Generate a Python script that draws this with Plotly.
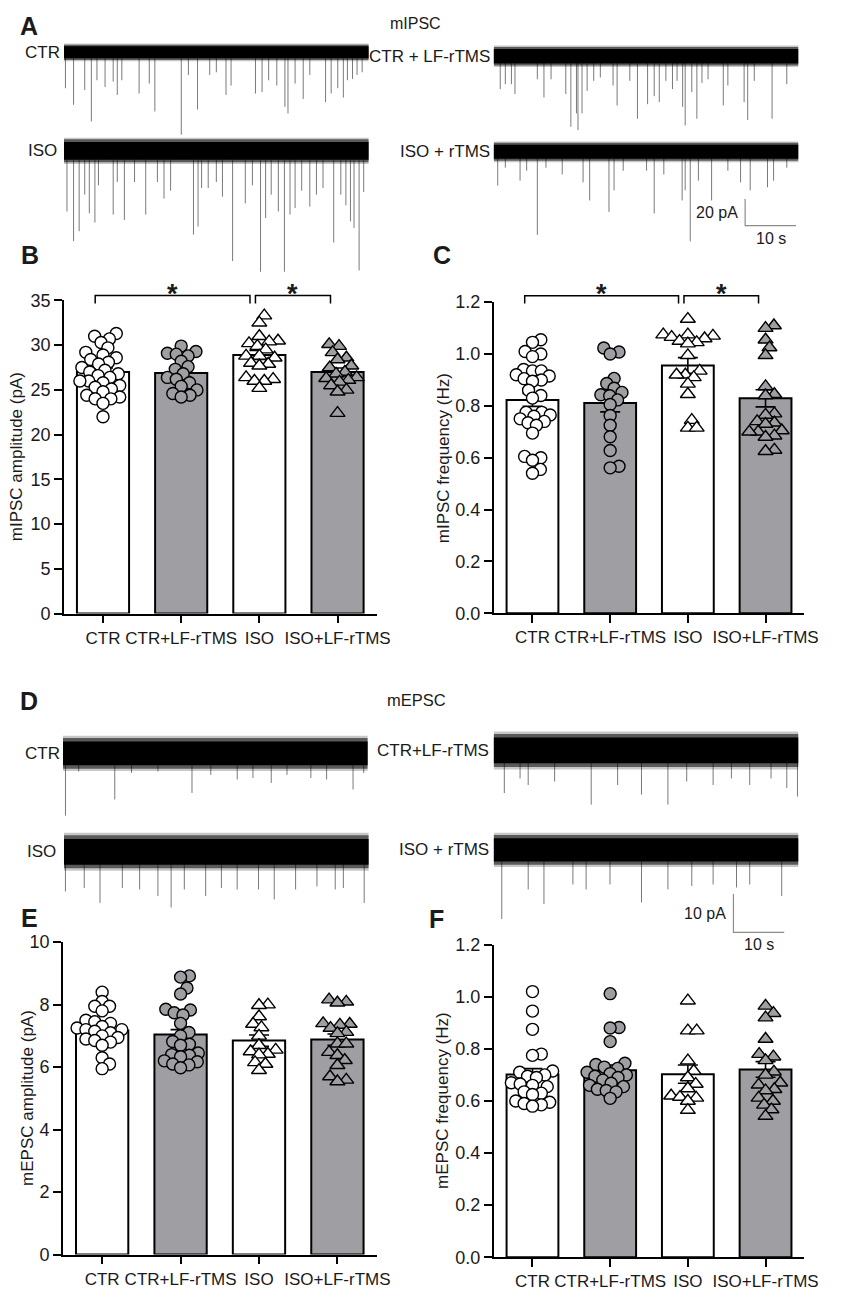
import plotly.graph_objects as go

W, H = 841, 1300
FONT = "Liberation Sans, Arial, sans-serif"
GRAY = "#9e9ea3"
INK = "#1a1a1a"

groups = ["CTR", "CTR+LF-rTMS", "ISO", "ISO+LF-rTMS"]

# ---------------- B: mIPSC amplitude (pA)
ipsc_amp_ctr = [31.3, 31.0, 30.7, 30.3, 29.7, 29.2, 28.9, 28.6, 28.4, 28.1,
                27.9, 27.5, 27.2, 27.0, 26.8, 26.6, 26.4, 26.0, 26.0, 25.8,
                25.5, 25.3, 25.1, 24.8, 24.4, 24.2, 24.0, 24.0, 23.5, 22.0]
ipsc_amp_ctr_lf = [29.9, 29.3, 29.1, 29.0, 28.8, 28.2, 27.6, 27.3, 26.8, 26.4,
                   26.2, 25.8, 25.4, 25.0, 24.6, 24.4, 24.2]
ipsc_amp_iso = [33.3, 32.5, 31.0, 30.5, 30.4, 30.2, 29.9, 29.5, 28.8, 28.8,
                28.6, 28.0, 27.9, 27.7, 26.4, 26.2, 26.0, 26.0, 25.2]
ipsc_amp_iso_lf = [30.1, 29.9, 29.2, 28.6, 28.4, 27.7, 27.5, 27.0, 26.8, 26.4,
                   26.3, 26.1, 25.9, 25.5, 25.0, 24.8, 22.4]
ipsc_amp_mean = [27.0, 26.9, 28.9, 27.0]
ipsc_amp_sem = [0.45, 0.4, 0.5, 0.45]
ipsc_amp_ticks = [0, 5, 10, 15, 20, 25, 30, 35]
ipsc_amp_ticktext = ["0", "5", "10", "15", "20", "25", "30", "35"]

# ---------------- C: mIPSC frequency (Hz)
ipsc_freq_ctr = [1.055, 1.045, 1.01, 1.0, 0.99, 0.94, 0.935, 0.935, 0.92, 0.915,
                 0.905, 0.9, 0.895, 0.86, 0.84, 0.83, 0.775, 0.775, 0.765, 0.76,
                 0.75, 0.74, 0.735, 0.725, 0.695, 0.605, 0.6, 0.59, 0.555, 0.54]
ipsc_freq_ctr_lf = [1.023, 1.008, 1.0, 0.906, 0.886, 0.868, 0.852, 0.843, 0.839,
                    0.823, 0.805, 0.763, 0.725, 0.681, 0.628, 0.567, 0.561]
ipsc_freq_iso = [1.135, 1.075, 1.075, 1.07, 1.065, 1.06, 1.05, 1.045, 1.04, 0.995,
                 0.935, 0.92, 0.92, 0.91, 0.885, 0.845, 0.745, 0.715, 0.715]
ipsc_freq_iso_lf = [1.11, 1.1, 1.055, 1.025, 0.995, 0.875, 0.845, 0.84, 0.77, 0.765,
                    0.74, 0.735, 0.73, 0.705, 0.7, 0.7, 0.685, 0.68, 0.63, 0.625]
ipsc_freq_mean = [0.823, 0.811, 0.956, 0.829]
ipsc_freq_sem = [0.025, 0.034, 0.03, 0.033]

freq_ticks = [0.0, 0.2, 0.4, 0.6, 0.8, 1.0, 1.2]
freq_ticktext = ["0.0", "0.2", "0.4", "0.6", "0.8", "1.0", "1.2"]

# ---------------- E: mEPSC amplitude (pA)
epsc_amp_ctr = [8.4, 8.1, 7.95, 7.95, 7.8, 7.5, 7.45, 7.4, 7.3, 7.25, 7.2, 7.2,
                7.15, 7.1, 7.0, 6.95, 6.9, 6.85, 6.8, 6.7, 6.3, 6.1, 5.95]
epsc_amp_ctr_lf = [8.92, 8.88, 8.53, 8.34, 7.85, 7.83, 7.74, 7.67, 7.4, 7.11, 7.0,
                   6.82, 6.73, 6.7, 6.45, 6.4, 6.38, 6.33, 6.2, 6.17, 6.1, 6.07, 5.98]
epsc_amp_iso = [8.0, 7.98, 7.62, 7.38, 7.27, 7.0, 6.7, 6.55, 6.5, 6.42, 6.4, 6.15,
                6.1, 5.9]
epsc_amp_iso_lf = [8.16, 8.09, 8.06, 7.4, 7.38, 7.35, 7.25, 7.12, 7.08, 6.75, 6.75,
                   6.48, 6.38, 6.22, 6.06, 5.7, 5.59, 5.54]
epsc_amp_mean = [7.17, 7.04, 6.85, 6.88]
epsc_amp_sem = [0.12, 0.16, 0.18, 0.18]
epsc_amp_ticks = [0, 2, 4, 6, 8, 10]
epsc_amp_ticktext = ["0", "2", "4", "6", "8", "10"]

# ---------------- F: mEPSC frequency (Hz)
epsc_freq_ctr = [1.02, 0.945, 0.875, 0.78, 0.775, 0.715, 0.71, 0.7, 0.695, 0.69,
                 0.67, 0.665, 0.66, 0.655, 0.635, 0.63, 0.625, 0.6, 0.595, 0.59,
                 0.585, 0.58]
epsc_freq_ctr_lf = [1.012, 0.882, 0.88, 0.828, 0.745, 0.74, 0.73, 0.725, 0.71, 0.705,
                    0.7, 0.695, 0.69, 0.68, 0.668, 0.66, 0.655, 0.645, 0.64, 0.635,
                    0.61]
epsc_freq_iso = [0.985, 0.87, 0.87, 0.755, 0.715, 0.69, 0.665, 0.648, 0.62, 0.615,
                 0.612, 0.6, 0.565]
epsc_freq_iso_lf = [0.965, 0.937, 0.92, 0.838, 0.78, 0.77, 0.756, 0.712, 0.7, 0.67,
                    0.662, 0.645, 0.64, 0.612, 0.6, 0.585, 0.567, 0.542]
epsc_freq_mean = [0.702, 0.718, 0.703, 0.721]
epsc_freq_sem = [0.022, 0.02, 0.035, 0.03]

# ---------------- A / D: example traces (event time s, event size pA)
ipsc_ctr_t = [0.3, 1.9, 4.1, 5.4, 6.5, 8.1, 9.7, 10.5, 11.4, 14.8, 16.8, 17.9,
              23.1, 24.5, 26.3, 28.7, 30.0, 31.9, 32.9, 37.7, 39.0, 40.3, 41.9,
              43.5, 44.1, 45.5, 47.1, 48.4, 51.5, 52.6, 53.9, 55.0, 55.8, 56.8,
              57.7, 58.7]
ipsc_ctr_pa = [27, 39.5, 28.4, 52, 21, 26, 22, 32, 21, 31, 23.5, 44.5, 62, 17, 43,
               17, 15, 32, 25, 31, 30, 21, 25, 41, 46, 23.5, 35, 17, 37.5, 31, 27,
               34, 21, 20, 17, 15]
ipsc_iso_t = [0.6, 1.9, 3.0, 4.1, 5.0, 6.1, 6.8, 9.7, 10.5, 11.9, 13.9, 16.1, 18.4,
              19.7, 21.0, 25.5, 26.4, 27.1, 28.4, 30.0, 31.2, 33.2, 35.7, 37.1,
              38.7, 39.7, 40.8, 42.2, 43.4, 44.5, 45.5, 46.8, 48.4, 49.7, 51.0,
              53.1, 54.5, 55.5, 56.4, 57.1, 58.1, 59.0]
ipsc_iso_pa = [45.7, 68, 60.5, 33, 47, 54, 26, 48, 23.5, 52, 23.5, 48, 23.5, 36, 30,
               63, 57, 28, 28, 23.5, 34.5, 83, 39.5, 26, 91, 50.5, 33, 45.7, 91, 48,
               43, 30, 42, 33, 28, 69, 33, 41, 53, 58, 90, 31]
ipsc_ctr_lf_t = [1.3, 2.3, 3.5, 4.2, 8.6, 9.9, 11.3, 14.2, 15.2, 16.3, 16.6, 17.4,
                 18.4, 19.7, 21.0, 23.5, 24.3, 26.8, 28.3, 30.3, 31.6, 32.6, 33.9,
                 35.2, 36.1, 37.2, 37.7, 39.0, 40.0, 41.0, 42.2, 45.2, 46.1, 49.3,
                 50.0, 51.3, 54.8, 57.7]
ipsc_ctr_lf_pa = [24.7, 21, 21, 28.4, 17.3, 31, 17.3, 28.4, 53, 43, 55.6, 43, 26,
                  18.5, 16, 22, 37, 18.5, 47, 36, 30, 34.5, 18.5, 24.7, 18.5, 38, 52,
                  27, 47, 20, 17.3, 37, 22, 34.5, 48, 18.5, 47, 21]
ipsc_iso_r_t = [0.8, 2.3, 5.2, 6.5, 8.6, 10.3, 13.5, 17.6, 18.9, 22.7, 23.7, 25.5,
                30.1, 31.6, 33.5, 37.1, 37.7, 38.7, 40.3, 42.9, 46.1, 48.6, 50.5,
                53.9, 55.1, 57.7]
ipsc_iso_r_pa = [25.4, 12, 21.7, 14.3, 62.5, 12, 17, 23, 36.6, 45.2, 29, 14.3, 14.3,
                 46.4, 17, 36.6, 29, 67.4, 21.7, 36.6, 14.3, 23, 29, 26.7, 21.7, 12]

epsc_ctr_t = [0.5, 3.1, 10.2, 13.5, 18.7, 25.4, 29.1, 34.3, 37.4, 41.0, 44.1, 48.8,
              51.9, 57.1, 59.2]
epsc_ctr_pa = [16.2, 4.7, 12, 5.1, 4.7, 10.3, 5.6, 6.8, 6.4, 7.7, 5.6, 6.4, 6.8,
               9.4, 5.1]
epsc_ctr_lf_t = [2.1, 5.2, 6.8, 12.0, 19.2, 24.4, 29.1, 34.3, 38.0, 43.2, 46.8,
                 50.4, 54.6, 57.7, 59.8]
epsc_ctr_lf_pa = [11.1, 7.3, 9, 8.1, 14.1, 9, 11.5, 14.1, 8.1, 9, 7.3, 9, 7.3, 9.8, 12]
epsc_iso_t = [0.3, 4.0, 7.1, 11.5, 14.9, 18.5, 21.1, 23.7, 27.9, 31.0, 34.1, 38.3,
              41.4, 45.6, 49.8, 53.4, 55.0, 59.1]
epsc_iso_pa = [10.3, 9.4, 13.3, 9.4, 9.8, 11.5, 14.5, 9.8, 11.5, 9.4, 9.8, 9.8, 12.4,
               9.8, 9, 9.8, 9.4, 13.3]
epsc_iso_r_t = [1.6, 6.8, 9.9, 15.6, 18.2, 22.9, 29.1, 34.3, 39.0, 43.2, 47.8, 50.4,
                56.7]
epsc_iso_r_pa = [18, 10.3, 14.1, 9, 10.3, 9, 13.7, 10.3, 9.4, 9, 9.8, 9, 12]

TRACE_DUR = 60  # s


def ax(kind, n):
    return kind if n == 1 else f"{kind}{n}"


def px_x(p):
    return p / W


def px_y(p):
    return 1 - p / H


fig = go.Figure()
layout = {}
annotations = []


def note(text, x, y, size=17, xanchor="center", yanchor="middle", **kw):
    annotations.append(dict(text=text, x=x, y=y, xref=kw.pop("xref", "paper"),
                            yref=kw.pop("yref", "paper"), showarrow=False,
                            xanchor=xanchor, yanchor=yanchor,
                            font=dict(family=FONT, size=size, color=INK), **kw))


def swarm(values, ppu_y, cat_px, d=8.8, step=0.5):
    # simple deterministic beeswarm (pixel space) -> offsets in category units
    order = sorted(range(len(values)), key=lambda i: values[i])
    placed = []
    offs = [0.0] * len(values)
    for i in order:
        y = values[i] * ppu_y
        k = 0
        while True:
            found = None
            for c in ([0.0] if k == 0 else [k * step, -k * step]):
                if all((c - px) ** 2 + (y - py) ** 2 >= d * d for px, py in placed):
                    found = c
                    break
            if found is not None:
                break
            k += 1
        placed.append((found, y))
        offs[i] = found / cat_px
    return offs


styles = [
    dict(symbol="circle", color="white", size=12),
    dict(symbol="circle", color=GRAY, size=12),
    dict(symbol="triangle-up", color="white", size=13),
    dict(symbol="triangle-up", color=GRAY, size=13),
]


def bar_panel(n, x0, x1, y0, ppu, ymax, ticks, ticktext, title, title_x,
              points, means, sems, brackets=None, bn=None):
    ytop = y0 - ymax * ppu
    cat_px = (x1 - x0) / 4
    layout[ax("xaxis", n)] = dict(
        domain=[px_x(x0), px_x(x1)], range=[-0.5, 3.5], anchor=ax("y", n),
        showline=True, linecolor="black", linewidth=1.6, ticks="outside",
        ticklen=8, tickwidth=1.6, tickcolor="black", tickvals=[0, 1, 2, 3],
        ticktext=groups, tickangle=0, showgrid=False, zeroline=False,
        tickfont=dict(family=FONT, size=17, color=INK), fixedrange=True)
    layout[ax("yaxis", n)] = dict(
        domain=[px_y(y0), px_y(ytop)], range=[0, ymax], anchor=ax("x", n),
        showline=True, linecolor="black", linewidth=1.6, ticks="outside",
        ticklen=8, tickwidth=1.6, tickcolor="black", tickvals=ticks,
        ticktext=ticktext, showgrid=False, zeroline=False,
        tickfont=dict(family=FONT, size=18, color=INK), fixedrange=True)
    xr, yr = ax("x", n), ax("y", n)
    fig.add_trace(go.Bar(
        x=[0, 1, 2, 3], y=means, width=0.667, xaxis=xr, yaxis=yr,
        marker=dict(color=["white", GRAY, "white", GRAY],
                    line=dict(color="black", width=2)),
        error_y=dict(type="data", array=sems, color="black", thickness=1.6,
                     width=10),
        hoverinfo="skip"))
    for g, vals in enumerate(points):
        offs = swarm(vals, ppu, cat_px)
        st = styles[g]
        fig.add_trace(go.Scatter(
            x=[g + o for o in offs], y=vals, mode="markers", xaxis=xr, yaxis=yr,
            marker=dict(symbol=st["symbol"], size=st["size"], color=st["color"],
                        line=dict(color="black", width=1.4)),
            hoverinfo="skip", cliponaxis=False))
    note(title, px_x(title_x), px_y(y0 - ymax * ppu / 2), textangle=-90)

    if brackets:
        # extra invisible y axis reaching above the plot for significance bars
        btop = ytop - 30
        layout[ax("yaxis", bn)] = dict(
            domain=[px_y(y0), px_y(btop)], range=[0, (y0 - btop) / ppu],
            anchor=xr, visible=False, fixedrange=True)
        level, drop = brackets["level"], brackets["drop"]
        for (a, b), (da, db) in zip(brackets["pairs"], brackets["inset"]):
            xa, xb = a + da, b + db
            fig.add_trace(go.Scatter(
                x=[xa, xa, xb, xb], y=[level - drop, level, level, level - drop],
                mode="lines", line=dict(color="black", width=1.5),
                xaxis=xr, yaxis=ax("y", bn), hoverinfo="skip"))
            note("<b>*</b>", (xa + xb) / 2, level, size=27, yanchor="bottom",
                 xref=xr, yref=ax("y", bn), yshift=-15)


def trace_panel(n, x0, baseline, ppa, t, pa, noise, label, label_right):
    top, bot = baseline - 25, baseline + 130
    layout[ax("xaxis", n)] = dict(domain=[px_x(x0), px_x(x0 + 310)],
                                  range=[0, TRACE_DUR], anchor=ax("y", n),
                                  visible=False, fixedrange=True)
    layout[ax("yaxis", n)] = dict(domain=[px_y(bot), px_y(top)],
                                  range=[-(bot - baseline) / ppa, (baseline - top) / ppa],
                                  anchor=ax("x", n), visible=False, fixedrange=True)
    xr, yr = ax("x", n), ax("y", n)
    xs, ys = [], []
    for ti, ai in zip(t, pa):
        xs += [ti, ti, None]
        ys += [0, -ai, None]
    fig.add_trace(go.Scatter(x=xs, y=ys, mode="lines", xaxis=xr, yaxis=yr,
                             line=dict(color="#7a7a7a", width=1), hoverinfo="skip"))
    # noisy baseline: fading envelope around a dense black core
    for scale, colour in [(1.15, "rgba(0,0,0,0.22)"), (1.0, "rgba(0,0,0,0.55)"),
                          (0.78, "black")]:
        w = noise * scale
        fig.add_trace(go.Scatter(x=[0, TRACE_DUR, TRACE_DUR, 0, 0],
                                 y=[w, w, -w, -w, w],
                                 mode="lines", fill="toself", fillcolor=colour,
                                 line=dict(width=0, color="rgba(0,0,0,0)"),
                                 xaxis=xr, yaxis=yr, hoverinfo="skip"))
    note(label, px_x(label_right), px_y(baseline), xanchor="right")


def scale_bar(n, t0, y0, dt, dy, ylabel):
    xr, yr = ax("x", n), ax("y", n)
    fig.add_trace(go.Scatter(x=[t0, t0, t0 + dt], y=[y0 + dy, y0, y0], mode="lines",
                             line=dict(color="#8c8c8c", width=1.2),
                             xaxis=xr, yaxis=yr, hoverinfo="skip"))
    note(ylabel, t0, y0 + dy / 2, size=16, xanchor="right", xref=xr, yref=yr,
         xshift=-5)
    note("10 s", t0 + dt / 2, y0, size=16, yanchor="top", xref=xr, yref=yr,
         yshift=-2)


# ---- A: mIPSC traces
IPSC_PPA, EPSC_PPA = 1.35, 3.9
trace_panel(5, 65, 43, IPSC_PPA, ipsc_ctr_t, ipsc_ctr_pa, 5.8, "CTR", 63)
trace_panel(6, 502, 47, IPSC_PPA, ipsc_ctr_lf_t, ipsc_ctr_lf_pa, 7.0, "CTR + LF-rTMS", 500)
trace_panel(7, 65, 143, IPSC_PPA, ipsc_iso_t, ipsc_iso_pa, 8.6, "ISO", 60)
trace_panel(8, 502, 144, IPSC_PPA, ipsc_iso_r_t, ipsc_iso_r_pa, 6.8, "ISO + rTMS", 500)
scale_bar(8, 49.5, -55.6, 10, 20, "20 pA")

# ---- D: mEPSC traces
trace_panel(9, 64, 755, EPSC_PPA, epsc_ctr_t, epsc_ctr_pa, 4.0, "CTR", 63)
trace_panel(10, 502, 752, EPSC_PPA, epsc_ctr_lf_t, epsc_ctr_lf_pa, 4.3, "CTR+LF-rTMS", 499)
trace_panel(11, 65, 855, EPSC_PPA, epsc_iso_t, epsc_iso_pa, 4.3, "ISO", 59)
trace_panel(12, 502, 853, EPSC_PPA, epsc_iso_r_t, epsc_iso_r_pa, 3.9, "ISO + rTMS", 499)
scale_bar(12, 47.2, -21.5, 10, 10, "10 pA")

# ---- bar panels
sig = dict(pairs=[(0, 2), (2, 3)], inset=[(-0.1, -0.12), (-0.05, -0.09)])
bar_panel(1, 65, 383, 613, 9.086, 35, ipsc_amp_ticks, ipsc_amp_ticktext,
          "mIPSC amplitude (pA)", 16.5,
          [ipsc_amp_ctr, ipsc_amp_ctr_lf, ipsc_amp_iso, ipsc_amp_iso_lf],
          ipsc_amp_mean, ipsc_amp_sem,
          brackets=dict(sig, level=35.55, drop=0.9), bn=13)
bar_panel(2, 502, 818, 612.7, 263.3, 1.2, freq_ticks, freq_ticktext,
          "mIPSC frequency (Hz)", 451,
          [ipsc_freq_ctr, ipsc_freq_ctr_lf, ipsc_freq_iso, ipsc_freq_iso_lf],
          ipsc_freq_mean, ipsc_freq_sem,
          brackets=dict(sig, level=1.225, drop=0.03), bn=14)
bar_panel(3, 64, 383, 1264, 31.73, 10, epsc_amp_ticks, epsc_amp_ticktext,
          "mEPSC amplitude (pA)", 28,
          [epsc_amp_ctr, epsc_amp_ctr_lf, epsc_amp_iso, epsc_amp_iso_lf],
          epsc_amp_mean, epsc_amp_sem)
bar_panel(4, 502, 818, 1266.7, 264.5, 1.2, freq_ticks, freq_ticktext,
          "mEPSC frequency (Hz)", 450.5,
          [epsc_freq_ctr, epsc_freq_ctr_lf, epsc_freq_iso, epsc_freq_iso_lf],
          epsc_freq_mean, epsc_freq_sem)

# ---- panel letters and section titles
for letter, lx, ly in [("A", 29, 16), ("B", 30, 249), ("C", 449, 249),
                       ("D", 29, 702), ("E", 30, 922), ("F", 444, 923)]:
    note(f"<b>{letter}</b>", px_x(lx), px_y(ly), size=25)
note("mIPSC", px_x(423), px_y(14), size=16)
note("mEPSC", px_x(424), px_y(701), size=16.5)

fig.update_layout(
    width=W, height=H, margin=dict(l=0, r=0, t=0, b=0),
    paper_bgcolor="white", plot_bgcolor="rgba(0,0,0,0)",
    showlegend=False, barmode="overlay", annotations=annotations,
    font=dict(family=FONT, color=INK), **layout)

# page body has a default margin; drop it so the figure sits at the window origin
fig.write_html("out.html", config={"displayModeBar": False},
               post_script="document.body.style.margin = '0px';")
